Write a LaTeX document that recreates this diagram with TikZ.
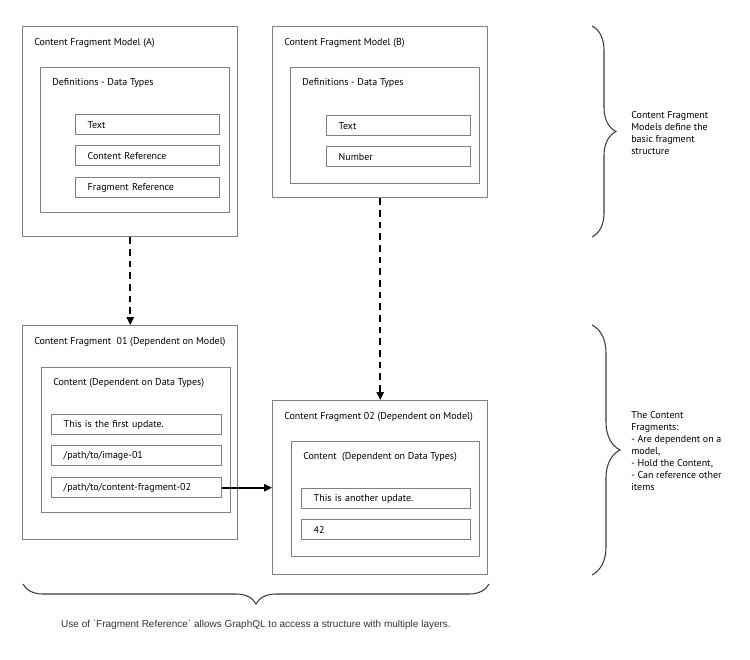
\documentclass[tikz,border=0pt]{standalone}
\usepackage{fontspec}
\setmainfont{PT Sans}
\newfontfamily\notefont{Liberation Sans}
\usetikzlibrary{arrows.meta,calc,decorations.pathreplacing}
\definecolor{framegray}{RGB}{128,128,128}
\definecolor{bracegray}{RGB}{60,60,60}
\tikzset{>={Triangle[length=6pt,width=5.5pt]}}
\tikzstyle{frame}=[
	 rectangle, draw=framegray, line width=1.1pt,
	 anchor=north west, inner sep=0pt
    ]
\tikzset{field/.style={frame, minimum height=15pt, text width=#1, align=left, inner xsep=9pt}}
\tikzstyle{title}=[anchor=west, inner sep=0pt]
\tikzstyle{link}=[black, line width=1.2pt, dash pattern=on 5pt off 3.75pt]
\tikzstyle{brace}=[bracegray, line width=0.8pt, decorate]
\tikzstyle{note}=[anchor=west, align=left, inner sep=0pt]
\newcommand{\boxTitle}[3]{\node[title] (#1-title) at ([shift={(12,#2)}]#1.north west) {#3}}

\begin{document}
\begin{tikzpicture}[x=0.75pt, y=-0.75pt, font=\fontsize{7.5}{9}\selectfont]
\useasboundingbox (0,0) rectangle (750,660);

% model A
\node[frame, minimum width=161.25pt, minimum height=157.5pt] (CFMA) at (22,26) {};
\node[frame, minimum width=141.75pt, minimum height=108.75pt] (DefA) at (40,67) {};
\node[field=90pt] (TextA) at (75,114) {Text};
\node[field=90pt] (ConRefA) at (75,145) {Content Reference};
\node[field=90pt] (FragRefA) at (75,177) {Fragment Reference};
\boxTitle{CFMA}{17}{Content Fragment Model (A)};
\boxTitle{DefA}{16}{Definitions - Data Types};

% model B
\node[frame, minimum width=161.25pt, minimum height=128.25pt] (CFMB) at (272,26) {};
\node[frame, minimum width=141.75pt, minimum height=87pt] (DefB) at (290,67) {};
\node[field=90pt] (TextB) at (326,115) {Text};
\node[field=90pt] (NumberB) at (326,146) {Number};
\boxTitle{CFMB}{17}{Content Fragment Model (B)};
\boxTitle{DefB}{16}{Definitions - Data Types};

% fragment 01
\node[frame, minimum width=161.25pt, minimum height=160.5pt] (CF01) at (22,325) {};
\node[frame, minimum width=141.75pt, minimum height=108.75pt] (Con01) at (41,367) {};
\node[field=109.5pt] (Update01) at (51,414) {This is the first update.};
\node[field=109.5pt] (Image01) at (51,445) {/path/to/image-01};
\node[field=109.5pt] (Ref01) at (51,477) {/path/to/content-fragment-02};
\boxTitle{CF01}{17}{Content Fragment\ \ 01 (Dependent on Model)};
\boxTitle{Con01}{16}{Content (Dependent on Data Types)};

% fragment 02
\node[frame, minimum width=161.25pt, minimum height=130.5pt] (CF02) at (272,400) {};
\node[frame, minimum width=141pt, minimum height=86.25pt] (Con02) at (291,441) {};
\node[field=108.75pt] (Update02) at (301,488) {This is another update.};
\node[field=108.75pt] (Number02) at (301,519) {42};
\boxTitle{CF02}{17}{Content Fragment 02 (Dependent on Model)};
\boxTitle{Con02}{16}{Content\ \ (Dependent on Data Types)};

% links
\draw[link, ->] (CFMA.south) -- (CF01.north);
\draw[link, ->] (CFMB.south) -- (CF02.north);
\draw[black, line width=1.2pt, ->] (Ref01.east) -- (Ref01.east -| CF02.west);

% braces
\draw[brace, decoration={brace, amplitude=18pt}] (592,26) -- (592,237);
\draw[brace, decoration={brace, amplitude=21pt}] (592,325) -- (592,575);
\draw[brace, decoration={brace, amplitude=15pt}] (489,584) -- (23,584);

\node[note] (ModelNote) at (631,133) {Content Fragment\\Models define the\\basic fragment\\structure};
\node[note] (FragNote) at (631,451) {The Content\\Fragments:\\- Are dependent on a\\model,\\- Hold the Content,\\- Can reference other\\items};
\node[font=\notefont\fontsize{7.5}{9}\selectfont, text=black!80] (Caption) at (256,625) {Use of \textasciigrave Fragment Reference\textasciigrave\ allows GraphQL to access a structure with multiple layers.};

\end{tikzpicture}
\end{document}
